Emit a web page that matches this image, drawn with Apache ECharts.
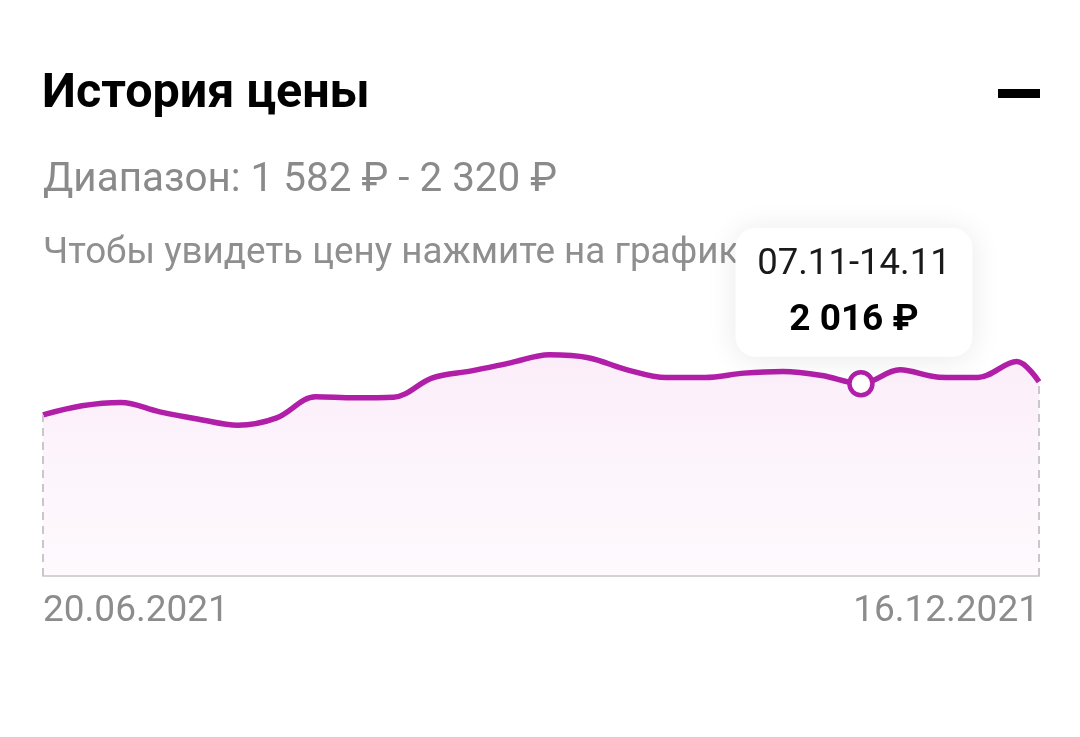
<!DOCTYPE html>
<html>
<head>
<meta charset="utf-8">
<script src="https://cdn.jsdelivr.net/npm/echarts@6/dist/echarts.min.js"></script>
<style>
html,body{margin:0;padding:0;background:#fff;}
#chart{width:1080px;height:737px;}
</style>
</head>
<body>
<div id="chart"></div>
<script>
// ---- data ----
const titleText = 'История цены';
const hintText = 'Чтобы увидеть цену нажмите на график';
const rangeLabel = 'Диапазон';
const currency = '₽';
const dates = ['2021-06-20','2021-06-27','2021-07-04','2021-07-11','2021-07-18','2021-07-25',
  '2021-08-01','2021-08-08','2021-08-15','2021-08-22','2021-08-29','2021-09-05','2021-09-12',
  '2021-09-19','2021-09-26','2021-10-03','2021-10-10','2021-10-17','2021-10-24','2021-10-31',
  '2021-11-07','2021-11-14','2021-11-21','2021-11-28','2021-12-05','2021-12-12','2021-12-16'];
const prices = [1690, 1785, 1820, 1722, 1645, 1582, 1659, 1880, 1869, 1875, 2079, 2152, 2236,
  2320, 2290, 2163, 2082, 2082, 2128, 2145, 2103, 2016, 2163, 2086, 2082, 2250, 2037];
const selectedIndex = 21;
const axisTickLabels = ['20.06.2021', '16.12.2021'];

// ---- helpers ----
function fmtPrice(v){ return String(v).replace(/\B(?=(\d{3})+(?!\d))/g, ' ') + ' ' + currency; }
function ddmm(s){ const p = s.split('-'); return p[2] + '.' + p[1]; }
const ts = dates.map(d => { const p = d.split('-'); return Date.UTC(+p[0], +p[1]-1, +p[2]); });
const minP = Math.min(...prices), maxP = Math.max(...prices);
const t0 = ts[0], t1 = ts[ts.length-1];

const LINE = '#b11fa8';
const chart = echarts.init(document.getElementById('chart'), null, {renderer:'canvas'});

const seriesData = ts.map((t, i) => {
  if (i === selectedIndex) {
    return {value:[t, prices[i]], symbol:'circle', symbolSize:23,
      itemStyle:{color:'#ffffff', borderColor:LINE, borderWidth:4.5}};
  }
  return {value:[t, prices[i]], symbol:'none'};
});

const option = {
  animation:false,
  backgroundColor:'#ffffff',
  textStyle:{fontFamily:'Roboto'},
  grid:{left:43, right:41, top:290, bottom:161, containLabel:false},
  xAxis:{
    type:'value', min:t0, max:t1, interval:(t1 - t0),
    axisLine:{show:true, onZero:false, lineStyle:{color:'#d3d3d3', width:2}},
    axisTick:{show:false},
    splitLine:{show:false},
    axisLabel:{
      formatter:(v) => v <= t0 ? axisTickLabels[0] : axisTickLabels[1],
      alignMinLabel:'left', alignMaxLabel:'right',
      showMinLabel:true, showMaxLabel:true,
      color:'#8c8c8c', fontSize:37, fontFamily:'Roboto',
      verticalAlign:'middle', lineHeight:37, margin:36
    }
  },
  yAxis:{type:'value', min:0, max:3000, show:false, splitLine:{show:false}},
  series:[{
    type:'line', data:seriesData, smooth:0.35, showSymbol:true,
    lineStyle:{color:LINE, width:5.5},
    itemStyle:{color:LINE},
    areaStyle:{color:new echarts.graphic.LinearGradient(0,0,0,1,[
      {offset:0, color:'rgba(232,150,222,0.24)'},
      {offset:1, color:'rgba(240,180,232,0.10)'}])},
    z:3,
    markLine:{
      silent:true, symbol:'none', label:{show:false},
      lineStyle:{color:'#c8c8c8', type:[8,6], width:2},
      data:[
        [{coord:[t0, 0]}, {coord:[t0, prices[0]]}],
        [{coord:[t1, 0]}, {coord:[t1, prices[prices.length-1]]}]
      ]
    }
  }]
};
chart.setOption(option);

const pt = chart.convertToPixel({seriesIndex:0}, [ts[selectedIndex], prices[selectedIndex]]);
const boxW = 237, boxH = 129;
const cx = pt[0] - 7;
const bx = cx - boxW/2, by = pt[1] - 156;

chart.setOption({
  graphic:[
    {type:'text', x:42, y:95, z:1,
      style:{text:titleText, fill:'#000', font:'bold 48.5px Roboto', verticalAlign:'middle', align:'left'}},
    {type:'rect', shape:{x:998, y:89, width:42, height:9}, style:{fill:'#000'}, z:1},
    {type:'text', x:43, y:181, z:1,
      style:{text:rangeLabel + ': ' + fmtPrice(minP) + ' - ' + fmtPrice(maxP), fill:'#8a8a8a',
        font:'40.4px Roboto', verticalAlign:'middle', align:'left'}},
    {type:'text', x:43, y:254, z:1,
      style:{text:hintText, fill:'#8f8f8f', font:'36.8px Roboto', verticalAlign:'middle', align:'left'}},
    {type:'rect', z:20, shape:{x:bx, y:by, width:boxW, height:boxH, r:20},
      style:{fill:'#ffffff', shadowBlur:30, shadowColor:'rgba(0,0,0,0.09)', shadowOffsetY:2}},
    {type:'text', z:21, x:cx, y:by+37,
      style:{text:ddmm(dates[selectedIndex-1]) + '-' + ddmm(dates[selectedIndex]), fill:'#1a1a1a',
        font:'36.5px Roboto', verticalAlign:'middle', align:'center'}},
    {type:'text', z:21, x:cx, y:by+93,
      style:{text:fmtPrice(prices[selectedIndex]), fill:'#000',
        font:'bold 37px Roboto', verticalAlign:'middle', align:'center'}}
  ]
});
</script>
</body>
</html>
